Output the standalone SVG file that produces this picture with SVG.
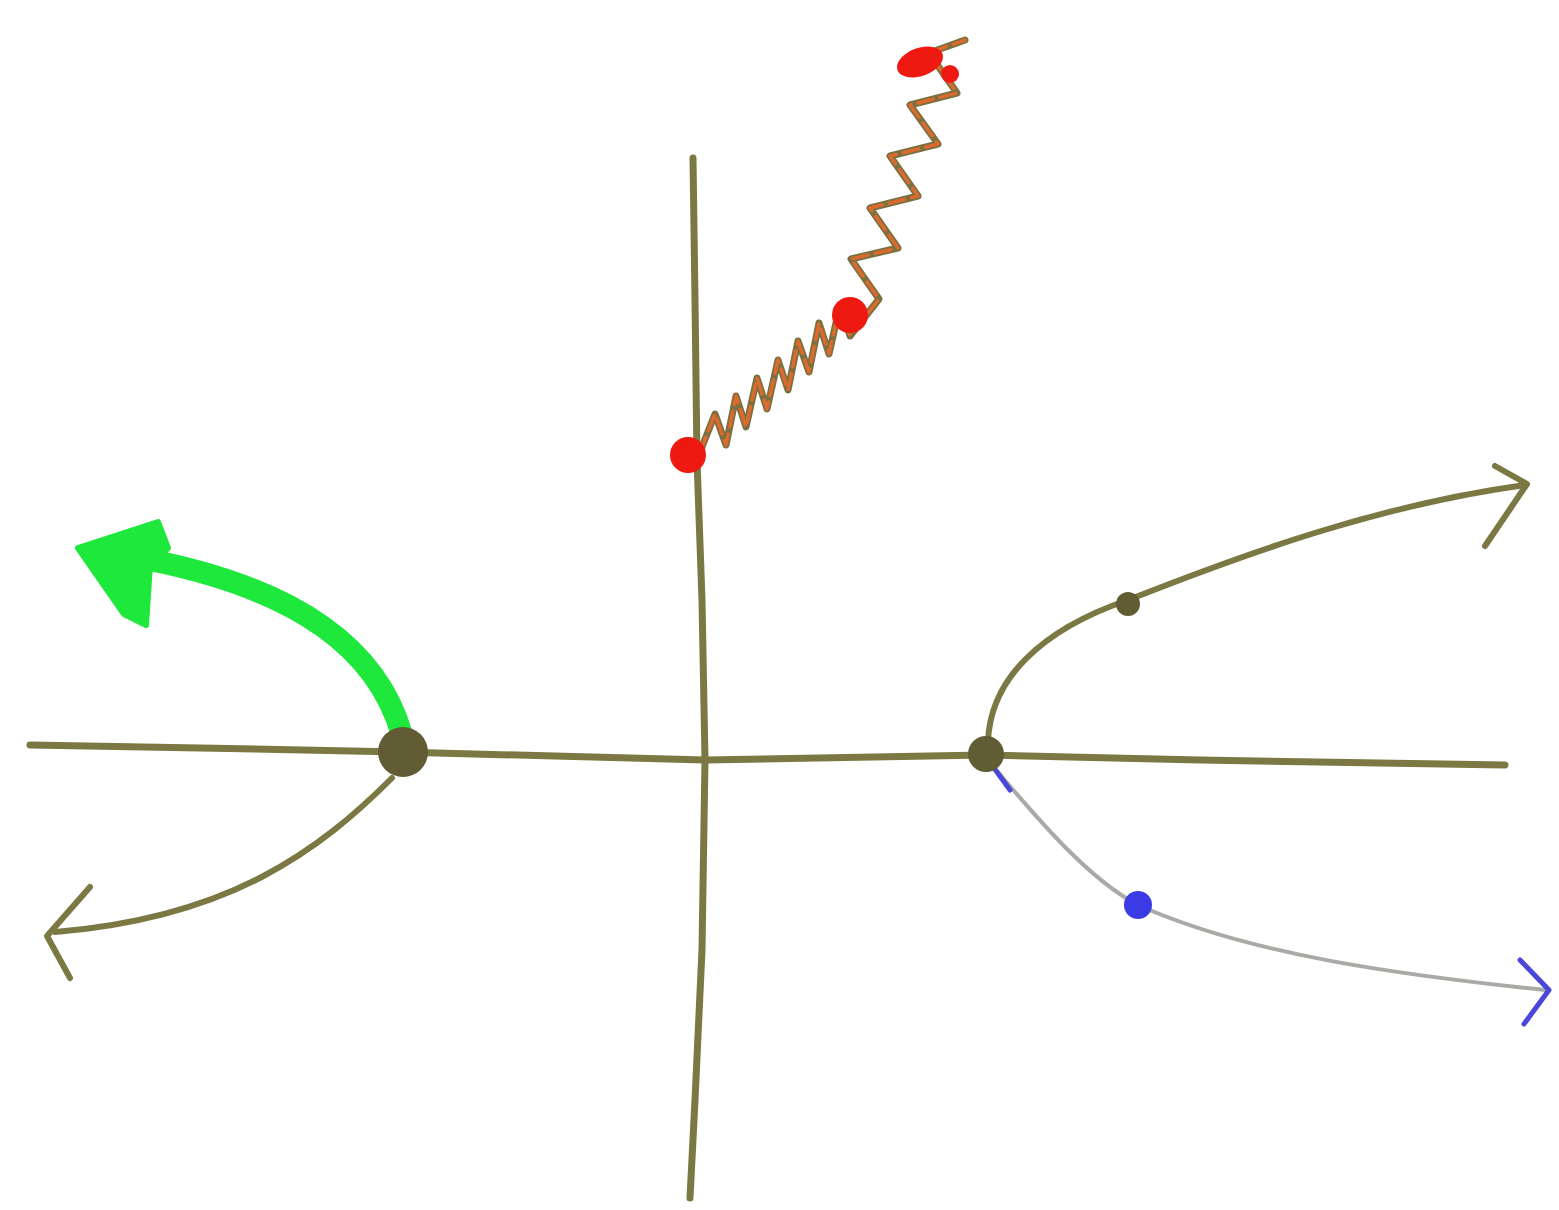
<svg xmlns="http://www.w3.org/2000/svg" width="1559" height="1210" viewBox="0 0 1559 1210">
<style>
.olive{fill:none;stroke:#7b7843;stroke-width:7;stroke-linecap:round;stroke-linejoin:round}
.olivethin{fill:none;stroke:#7b7843;stroke-width:6;stroke-linecap:round;stroke-linejoin:round}
.gray{fill:none;stroke:#a9a9a6;stroke-width:4;stroke-linecap:round;stroke-linejoin:round}
.blue{fill:none;stroke:#4a48d8;stroke-width:5;stroke-linecap:round;stroke-linejoin:round}
.dot{fill:#615c33}
.red{fill:#ee1a12}
</style>
<rect width="1559" height="1210" fill="#ffffff"/>
<g id="connectors">
  <g id="axes">
    <polyline class="olive" points="30,745 200,748 400,752 705,760 985,755 1200,760 1505,765"/>
    <polyline class="olive" points="693,158 695,300 697,460 702,600 705,760 702,950 695,1100 690,1198"/>
  </g>
  <g id="spring">
    <polyline fill="none" stroke="#7b7040" stroke-width="7" stroke-linejoin="round" stroke-linecap="round" points="700,452 715,414 726,445 736,396 746,427 757,378 767,409 778,360 788,390 798,341 809,372 819,323 829,354 840,305 850,336 879,299 851,259 898,248 870,208 918,196 890,156 938,144 910,105 957,93 929,53 965,40"/>
    <polyline fill="none" stroke="#da6a2e" stroke-width="3.5" stroke-linejoin="round" stroke-linecap="round" stroke-dasharray="16 7" points="700,452 715,414 726,445 736,396 746,427 757,378 767,409 778,360 788,390 798,341 809,372 819,323 829,354 840,305 850,336 879,299 851,259 898,248 870,208 918,196 890,156 938,144 910,105 957,93 929,53 965,40"/>
  </g>
  <g id="green-arrow">
    <path d="M402,735 C378,650 300,590 150,560" fill="none" stroke="#1ee83c" stroke-width="22" stroke-linecap="round"/>
    <polygon points="78,548 158,522 168,548 150,565 146,625 124,614" fill="#1ee83c" stroke="#1ee83c" stroke-width="6" stroke-linejoin="round"/>
  </g>
  <g id="lower-left-arrow">
    <path class="olivethin" d="M392,778 C320,850 230,918 55,932"/>
    <polyline class="olivethin" points="90,887 47,936 70,978"/>
  </g>
  <g id="upper-right-arrow">
    <path class="olivethin" d="M988,742 C990,680 1040,630 1128,600 C1250,552 1380,505 1525,485"/>
    <polyline class="olivethin" points="1495,466 1527,484 1485,546"/>
  </g>
  <g id="lower-right-arrow">
    <path class="gray" d="M992,765 C1040,822 1090,880 1138,905 C1250,955 1400,975 1545,990"/>
    <path class="blue" d="M994,768 L1010,790"/>
    <polyline class="blue" points="1520,960 1549,990 1524,1024"/>
  </g>
</g>
<g id="node-left"><circle class="dot" cx="403" cy="752" r="25"/></g>
<g id="node-right"><circle class="dot" cx="986" cy="754" r="18"/></g>
<g id="node-red-base"><circle class="red" cx="688" cy="455" r="18"/></g>
<g id="node-red-mid"><circle class="red" cx="850" cy="315" r="18"/></g>
<g id="node-red-top"><ellipse class="red" cx="920" cy="62" rx="24" ry="14" transform="rotate(-20 920 62)"/><circle class="red" cx="950" cy="74" r="9"/></g>
<g id="node-blue"><circle fill="#3b3be6" cx="1138" cy="905" r="14"/></g>
<g id="node-small"><circle class="dot" cx="1128" cy="604" r="12"/></g>
</svg>
